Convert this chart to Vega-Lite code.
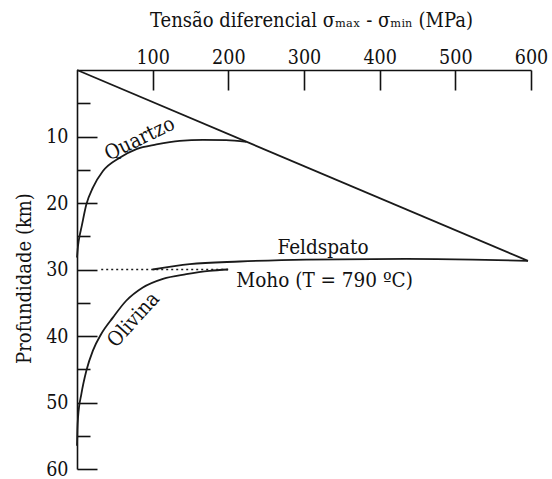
{
  "$schema": "https://vega.github.io/schema/vega-lite/v6.json",
  "width": 454,
  "height": 399,
  "autosize": {"type": "none"},
  "padding": {"left": 77, "top": 70, "right": 21, "bottom": 10},
  "background": "white",
  "config": {
    "view": {"stroke": null},
    "font": "DejaVu Serif Condensed, DejaVu Serif",
    "axis": {
      "grid": false,
      "ticks": true,
      "domainColor": "#111",
      "domainWidth": 1.6,
      "tickColor": "#111",
      "tickWidth": 1.6,
      "labelColor": "#111",
      "labelFont": "DejaVu Serif Condensed, DejaVu Serif",
      "labelFontSize": 19.5,
      "labelFlush": false,
      "labelOverlap": false,
      "titleFont": "DejaVu Serif Condensed, DejaVu Serif",
      "titleFontSize": 20,
      "titleFontWeight": "normal",
      "titleColor": "#111"
    }
  },
  "datasets": {
    "curves": [
      {"series": "limite", "x": 0, "y": 0},
      {"series": "limite", "x": 596, "y": 28.7},
      {"series": "quartzo", "x": 0, "y": 28.2},
      {"series": "quartzo", "x": 1.5, "y": 26.3},
      {"series": "quartzo", "x": 3.5, "y": 24.9},
      {"series": "quartzo", "x": 5.8, "y": 23.7},
      {"series": "quartzo", "x": 12.4, "y": 20.2},
      {"series": "quartzo", "x": 21, "y": 17.7},
      {"series": "quartzo", "x": 34.3, "y": 15.2},
      {"series": "quartzo", "x": 56.4, "y": 13.2},
      {"series": "quartzo", "x": 78.5, "y": 11.9},
      {"series": "quartzo", "x": 105, "y": 11.2},
      {"series": "quartzo", "x": 135.7, "y": 10.65},
      {"series": "quartzo", "x": 166.5, "y": 10.5},
      {"series": "quartzo", "x": 197, "y": 10.55},
      {"series": "quartzo", "x": 224, "y": 10.8},
      {"series": "olivina", "x": 0, "y": 56.5},
      {"series": "olivina", "x": 0.5, "y": 54.2},
      {"series": "olivina", "x": 1.4, "y": 52.2},
      {"series": "olivina", "x": 5.8, "y": 48.7},
      {"series": "olivina", "x": 12.4, "y": 45.2},
      {"series": "olivina", "x": 21, "y": 42.2},
      {"series": "olivina", "x": 32, "y": 39.7},
      {"series": "olivina", "x": 47.6, "y": 37.2},
      {"series": "olivina", "x": 65, "y": 34.7},
      {"series": "olivina", "x": 87, "y": 32.7},
      {"series": "olivina", "x": 113.6, "y": 31.4},
      {"series": "olivina", "x": 144.5, "y": 30.7},
      {"series": "olivina", "x": 175, "y": 30.2},
      {"series": "olivina", "x": 199.5, "y": 30.0},
      {"series": "feldspato", "x": 100, "y": 30.0},
      {"series": "feldspato", "x": 149, "y": 29.2},
      {"series": "feldspato", "x": 215, "y": 28.8},
      {"series": "feldspato", "x": 303, "y": 28.5},
      {"series": "feldspato", "x": 435, "y": 28.4},
      {"series": "feldspato", "x": 523, "y": 28.5},
      {"series": "feldspato", "x": 596, "y": 28.7},
      {"series": "moho", "x": 32, "y": 30},
      {"series": "moho", "x": 200, "y": 30}
    ],
    "xticks": [
      {"x": 50, "kind": "minor"},
      {"x": 100, "kind": "major"},
      {"x": 150, "kind": "minor"},
      {"x": 200, "kind": "major"},
      {"x": 250, "kind": "minor"},
      {"x": 300, "kind": "major"},
      {"x": 350, "kind": "minor"},
      {"x": 400, "kind": "major"},
      {"x": 450, "kind": "minor"},
      {"x": 500, "kind": "major"},
      {"x": 550, "kind": "minor"},
      {"x": 600, "kind": "major"}
    ],
    "labels": [
      {"label": "Quartzo", "x": 83, "y": 10.4},
      {"label": "Olivina", "x": 75, "y": 37.6},
      {"label": "Feldspato", "x": 265, "y": 27.6},
      {"label": "Moho (T = 790 ºC)", "x": 210.6, "y": 32.65}
    ]
  },
  "encoding": {
    "x": {
      "field": "x",
      "type": "quantitative",
      "scale": {"domain": [0, 600], "nice": false},
      "axis": {
        "orient": "top",
        "values": [100, 200, 300, 400, 500, 600],
        "tickSize": -20,
        "labelPadding": 27,
        "labelBaseline": "alphabetic",
        "title": "Tensão diferencial  σₘₐₓ - σₘᵢₙ (MPa)",
        "titleX": 234,
        "titleY": -44,
        "titleAlign": "center",
        "titleBaseline": "alphabetic"
      }
    },
    "y": {
      "field": "y",
      "type": "quantitative",
      "scale": {"domain": [0, 60], "reverse": true, "nice": false},
      "axis": {
        "orient": "left",
        "values": [5, 10, 15, 20, 25, 30, 35, 40, 45, 50, 55, 60],
        "labelExpr": "datum.value % 10 === 0 ? datum.label : ''",
        "tickSize": -20,
        "tickDash": {"condition": {"test": "datum.value % 10 !== 0", "value": [13, 40]}, "value": [40, 1]},
        "labelPadding": 29,
        "labelBaseline": "middle",
        "title": "Profundidade (km)",
        "titleAngle": -90,
        "titleX": -53,
        "titleY": 208,
        "titleAlign": "center",
        "titleBaseline": "middle"
      }
    }
  },
  "layer": [
    {
      "data": {"name": "curves"},
      "transform": [{"filter": "datum.series !== 'moho'"}],
      "mark": {"type": "line", "interpolate": "monotone", "color": "#1a1a1a", "strokeWidth": 1.8},
      "encoding": {"detail": {"field": "series"}}
    },
    {
      "data": {"name": "curves"},
      "transform": [{"filter": "datum.series === 'moho'"}],
      "mark": {"type": "line", "color": "#1a1a1a", "strokeWidth": 1.5, "strokeDash": [2, 3]},
      "encoding": {}
    },
    {
      "data": {"name": "xticks"},
      "transform": [{"filter": "datum.kind === 'major'"}],
      "mark": {"type": "tick", "orient": "vertical", "color": "#111", "size": 20, "thickness": 1.6, "opacity": 1},
      "encoding": {"y": {"datum": 1.5, "type": "quantitative"}}
    },
    {
      "data": {"name": "xticks"},
      "transform": [{"filter": "datum.kind === 'minor'"}],
      "mark": {"type": "tick", "orient": "vertical", "color": "#111", "size": 11, "thickness": 1.6, "opacity": 1},
      "encoding": {"y": {"datum": 0.83, "type": "quantitative"}}
    },
    {
      "data": {"name": "labels"},
      "transform": [{"filter": "datum.label === 'Quartzo'"}],
      "mark": {"type": "text", "angle": -26, "fontSize": 20.5, "align": "center", "baseline": "middle", "color": "#111"},
      "encoding": {"text": {"field": "label"}}
    },
    {
      "data": {"name": "labels"},
      "transform": [{"filter": "datum.label === 'Olivina'"}],
      "mark": {"type": "text", "angle": -48, "fontSize": 20.5, "align": "center", "baseline": "middle", "color": "#111"},
      "encoding": {"text": {"field": "label"}}
    },
    {
      "data": {"name": "labels"},
      "transform": [{"filter": "datum.label === 'Feldspato' || datum.label === 'Moho (T = 790 ºC)'"}],
      "mark": {"type": "text", "fontSize": 20.5, "align": "left", "baseline": "alphabetic", "color": "#111"},
      "encoding": {"text": {"field": "label"}}
    }
  ]
}
